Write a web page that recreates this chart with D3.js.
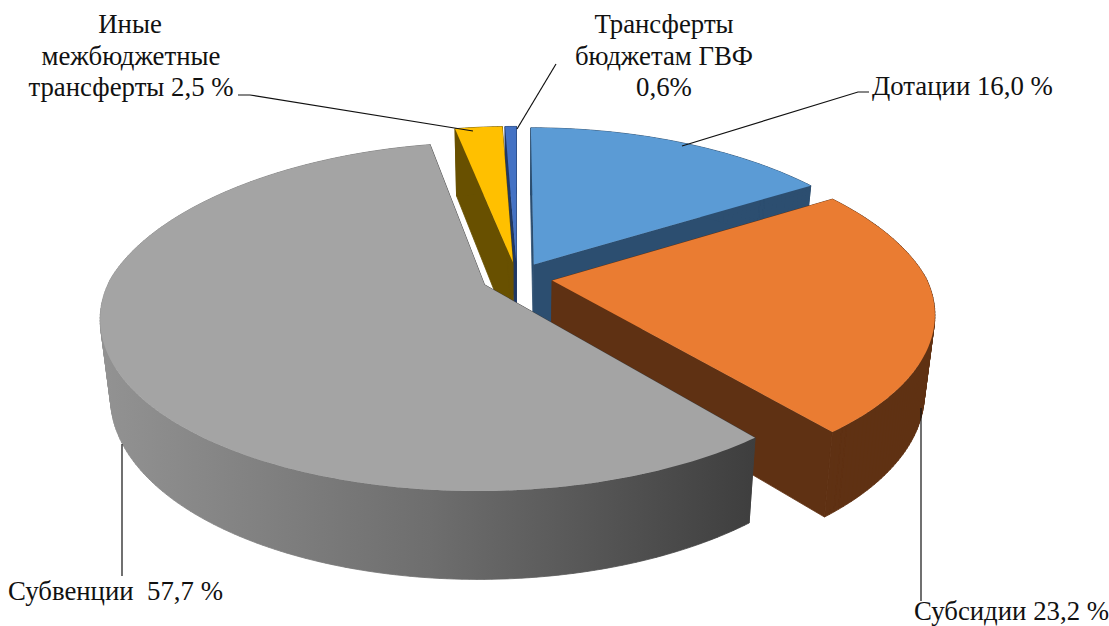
<!DOCTYPE html>
<html>
<head>
<meta charset="utf-8">
<style>
body { margin: 0; background: #fff; }
svg { display: block; }
text { font-family: "Liberation Serif", serif; font-size: 26.8px; fill: #111; }
</style>
</head>
<body>
<div id="chart"></div>
<script src="https://cdn.jsdelivr.net/npm/d3@7"></script>
<script>
var categories = ["Дотации", "Субсидии", "Субвенции", "Иные межбюджетные трансферты", "Трансферты бюджетам ГВФ"];
var values = [16.0, 23.2, 57.7, 2.5, 0.6];
var topColors = ["#5b9bd5", "#ea7c32", "#a4a4a4", "#ffc000", "#4472c4"];
var sideColors = ["#2c4e70", "#5f3113", "#a4a4a4", "#685000", "#203864"];
// back to front, so nearer slices cover the ones behind
var drawOrder = [0, 4, 3, 1, 2];

var width = 1109, height = 626;
var cx = 517, cy = 278;      // middle of the pie
var rx = 374, ry = 166;      // radii of the top face
var persp = 0.182;           // near side looks bigger than the far side
var backNarrow = 0.03;       // far half is a little narrower still
var explode = 0.095;
var depth = 76, shrink = 0.975; // bottom face is lower and a bit smaller

var svg = d3.select("#chart").append("svg").attr("width", width).attr("height", height);

var grad = svg.append("defs").append("linearGradient")
    .attr("id", "graySide").attr("gradientUnits", "userSpaceOnUse")
    .attr("x1", 105).attr("x2", 755).attr("y1", 0).attr("y2", 0);
grad.append("stop").attr("offset", "0%").attr("stop-color", "#929292");
grad.append("stop").attr("offset", "50%").attr("stop-color", "#6e6e6e");
grad.append("stop").attr("offset", "100%").attr("stop-color", "#3e3e3e");

var xScale = d3.scaleLinear().domain([-1, 1]).range([cx - rx, cx + rx]);
var yScale = d3.scaleLinear().domain([-1, 1]).range([cy + ry, cy - ry]);

// disc coordinates -> screen, level 0 is the top face and 1 the bottom face
function project(u, v, level) {
    var s = 1 / (1 + persp * v);
    var x = xScale(u * s / (1 + backNarrow * Math.max(v, 0))), y = yScale(v * s);
    if (level) {
        x = cx + shrink * (x - cx);
        y = cy + shrink * (y - cy) + depth * s;
    }
    return [x, y];
}

var line = d3.line();
var pie = d3.pie().sort(null)(values);

function arcPoints(d, level) {
    var mid = (d.startAngle + d.endAngle) / 2;
    var ou = explode * Math.sin(mid), ov = explode * Math.cos(mid);
    var n = Math.max(4, Math.ceil((d.endAngle - d.startAngle) * 60));
    return d3.range(n + 1).map(function(i) {
        var a = d.startAngle + (d.endAngle - d.startAngle) * i / n;
        return project(ou + Math.sin(a), ov + Math.cos(a), level);
    });
}

function apex(d, level) {
    var mid = (d.startAngle + d.endAngle) / 2;
    return project(explode * Math.sin(mid), explode * Math.cos(mid), level);
}

drawOrder.forEach(function(i) {
    var d = pie[i];
    var g = svg.append("g").attr("class", "slice");
    var side = i == 2 ? "url(#graySide)" : sideColors[i];
    var top = arcPoints(d, 0), bottom = arcPoints(d, 1);
    var a0 = apex(d, 0), a1 = apex(d, 1);

    // two cut faces
    [0, top.length - 1].forEach(function(k) {
        var c = i == 2 ? "#3e3e3e" : sideColors[i];
        g.append("path")
            .attr("d", line([a0, top[k], bottom[k], a1]) + "Z")
            .attr("fill", c).attr("stroke", c).attr("stroke-width", 0.8);
    });
    // outer rim: all quads in one path with the same winding, so no seams show
    var rim = d3.range(top.length - 1).map(function(k) {
        var quad = [top[k], top[k + 1], bottom[k + 1], bottom[k]];
        if (d3.polygonArea(quad) < 0) quad.reverse();
        return line(quad) + "Z";
    }).join("");
    g.append("path").attr("d", rim).attr("fill", side)
        .attr("stroke", side).attr("stroke-width", 0.8);
    // top face
    g.append("path")
        .attr("d", line([a0].concat(top)) + "Z")
        .attr("fill", topColors[i]);
});

// leader lines
var leaders = [
    [[238, 95], [250, 95], [473, 131]],
    [[556, 64], [517, 129]],
    [[869, 92], [858, 92], [682, 146]],
    [[122, 444], [122, 576]],
    [[921, 408], [921, 601]]
];
svg.selectAll("path.leader").data(leaders).enter().append("path")
    .attr("class", "leader")
    .attr("d", function(d) { return line(d); })
    .attr("fill", "none").attr("stroke", "#111").attr("stroke-width", 1.2);

// labels, one row per text line
var labelRows = [
    ["Иные", 130, 33, "middle"],
    ["межбюджетные", 131, 65, "middle"],
    ["трансферты 2,5 %", 131, 96, "middle"],
    ["Трансферты", 664, 33, "middle"],
    ["бюджетам ГВФ", 664, 65, "middle"],
    ["0,6%", 664, 96, "middle"],
    ["Дотации 16,0 %", 872, 95, "start"],
    ["Субвенции  57,7 %", 8, 600, "start"],
    ["Субсидии 23,2 %", 914, 620, "start"]
];
svg.selectAll("text").data(labelRows).enter().append("text")
    .attr("xml:space", "preserve")
    .style("white-space", "pre")
    .attr("x", function(d) { return d[1]; })
    .attr("y", function(d) { return d[2]; })
    .attr("text-anchor", function(d) { return d[3]; })
    .text(function(d) { return d[0]; });
</script>
</body>
</html>
